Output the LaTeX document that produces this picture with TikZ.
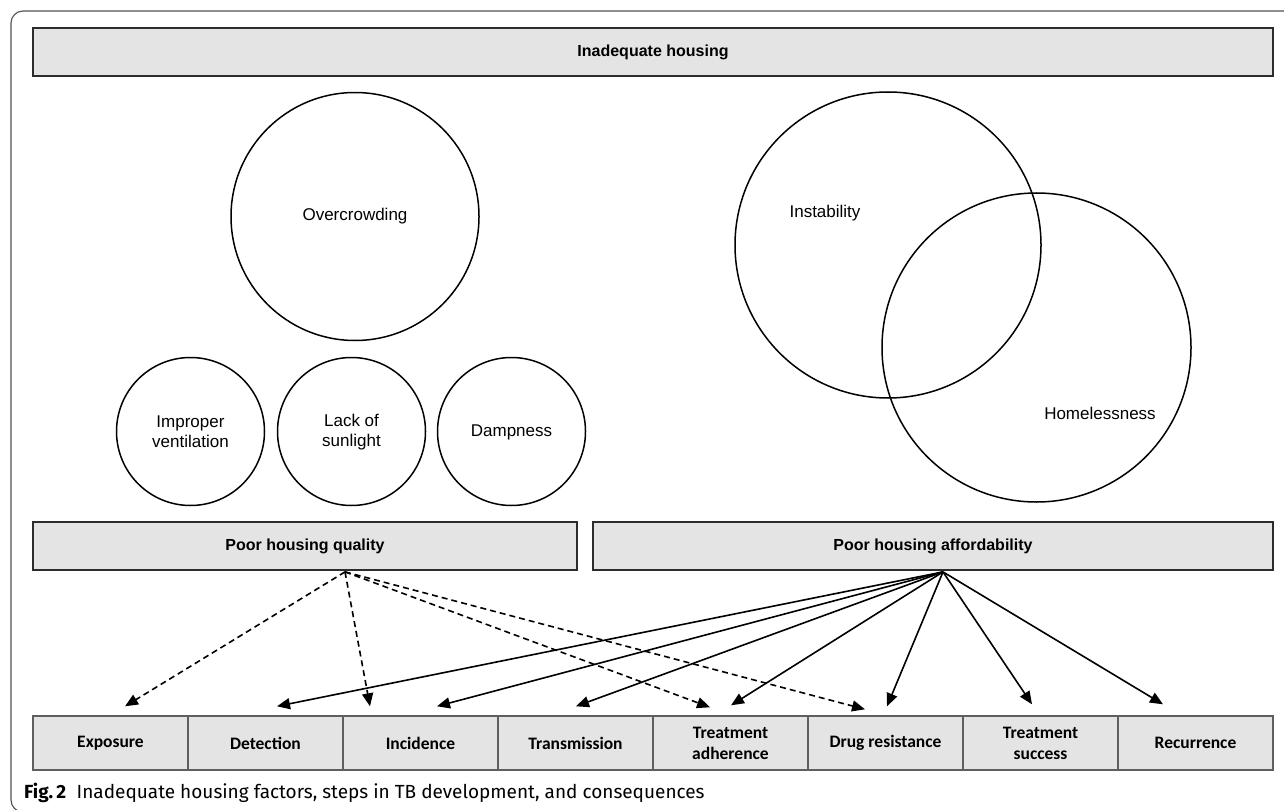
\documentclass[tikz,border=0pt]{standalone}
\usepackage{fontspec}
\setmainfont{Liberation Sans}
\newfontfamily\calib{Carlito}
\newfontfamily\capfont{Fira Sans}
\usetikzlibrary{arrows.meta}
\definecolor{boxgray}{RGB}{228,228,228}
\definecolor{edgegray}{RGB}{45,45,45}
\definecolor{rowedge}{RGB}{95,95,95}
\definecolor{outeredge}{RGB}{80,80,80}
\begin{document}
\begin{tikzpicture}[x=1pt,y=-1pt,
  hbar/.style={draw=edgegray,line width=1.8pt,fill=boxgray,minimum height=48pt,inner sep=0pt,
    font=\bfseries\fontsize{16}{19}\selectfont},
  stepbox/.style={draw=rowedge,line width=1.4pt,fill=boxgray,minimum width=155pt,minimum height=54pt,
    inner sep=0pt,align=center,font=\calib\bfseries\fontsize{17.5}{21}\selectfont},
  circ/.style={draw=black,line width=1.5pt,circle,inner sep=0pt},
  ctext/.style={align=center,font=\fontsize{17}{20}\selectfont,inner sep=0pt},
  solidarr/.style={line width=1.6pt,-{Triangle[length=13pt,width=11pt]}},
  dasharr/.style={line width=1.6pt,dash pattern=on 6pt off 4pt,-{Triangle[length=13pt,width=11pt]}}]
\useasboundingbox (0,0) rectangle (1284,810);
\begin{scope}
\clip (0,0) rectangle (1284,810);
\draw[draw=outeredge,line width=1.1pt,rounded corners=12pt] (1300,11) -- (11,11) -- (11,812) -- (1300,812);
\end{scope}
% top bar
\node[hbar,minimum width=1240pt] (top) at (653,52) {Inadequate housing};
% circles quality
\node[circ,minimum size=248pt] (over) at (355,216.5) {};
\node[ctext] (overt) at (355,216.5) {Overcrowding};
\node[circ,minimum size=148pt] (vent) at (190.5,431.5) {};
\node[ctext] (ventt) at (190.5,432) {Improper\\ventilation};
\node[circ,minimum size=148pt] (sun) at (351.5,431.5) {};
\node[ctext] (sunt) at (351.5,432) {Lack of\\sunlight};
\node[circ,minimum size=148pt] (damp) at (511.5,431.5) {};
\node[ctext] (dampt) at (511.5,432) {Dampness};
% circles affordability
\node[circ,minimum size=306pt] (inst) at (888,245) {};
\node[ctext] (instt) at (825,213) {Instability};
\node[circ,minimum size=309pt] (home) at (1036.5,347.5) {};
\node[ctext] (homet) at (1100,413) {Homelessness};
% middle bars
\node[hbar,minimum width=544pt] (qual) at (305,546) {Poor housing quality};
\node[hbar,minimum width=680pt] (aff) at (933,546) {Poor housing affordability};
% bottom row
\node[stepbox] (exp) at (110.5,743) {Exposure};
\node[stepbox] (det) at (265.5,743) {Detection};
\node[stepbox] (inc) at (420.5,743) {Incidence};
\node[stepbox] (tra) at (575.5,743) {Transmission};
\node[stepbox] (adh) at (730.5,743) {Treatment\\adherence};
\node[stepbox] (dru) at (885.5,743) {Drug resistance};
\node[stepbox] (suc) at (1040.5,743) {Treatment\\success};
\node[stepbox] (rec) at (1195.5,743) {Recurrence};
% apexes
\coordinate (qa) at ([xshift=40pt,yshift=-1pt]qual.south);
\coordinate (aa) at ([xshift=10pt,yshift=-1pt]aff.south);
% targets
\coordinate (t-exp) at ([xshift=14.5pt,yshift=9pt]exp.north);
\coordinate (t-inc-d) at ([xshift=-50.5pt,yshift=9pt]inc.north);
\coordinate (t-adh-d) at ([xshift=-20.5pt,yshift=8pt]adh.north);
\coordinate (t-dru-d) at ([xshift=-20.5pt,yshift=6pt]dru.north);
\coordinate (t-det) at ([xshift=11.5pt,yshift=9pt]det.north);
\coordinate (t-inc) at ([xshift=16.5pt,yshift=9pt]inc.north);
\coordinate (t-tra) at ([xshift=0.5pt,yshift=9pt]tra.north);
\coordinate (t-adh) at ([xshift=0.5pt,yshift=10pt]adh.north);
\coordinate (t-dru) at ([xshift=1.5pt,yshift=9pt]dru.north);
\coordinate (t-suc) at ([xshift=-8.5pt,yshift=11pt]suc.north);
\coordinate (t-rec) at ([xshift=-32.5pt,yshift=11pt]rec.north);
% dashed arrows
\draw[dasharr] (qa) -- (t-exp);
\draw[dasharr] (qa) -- (t-inc-d);
\draw[dasharr] (qa) -- (t-adh-d);
\draw[dasharr] (qa) -- (t-dru-d);
% solid arrows
\draw[solidarr] (aa) -- (t-det);
\draw[solidarr] (aa) -- (t-inc);
\draw[solidarr] (aa) -- (t-tra);
\draw[solidarr] (aa) -- (t-adh);
\draw[solidarr] (aa) -- (t-dru);
\draw[solidarr] (aa) -- (t-suc);
\draw[solidarr] (aa) -- (t-rec);
% caption
\node[anchor=west,inner sep=0pt,font=\capfont\fontsize{19}{22}\selectfont] (cap) at (24,793)
  {\textbf{Fig.\,2}\hspace{0.55em}Inadequate housing factors, steps in TB development, and consequences};
\end{tikzpicture}
\end{document}
